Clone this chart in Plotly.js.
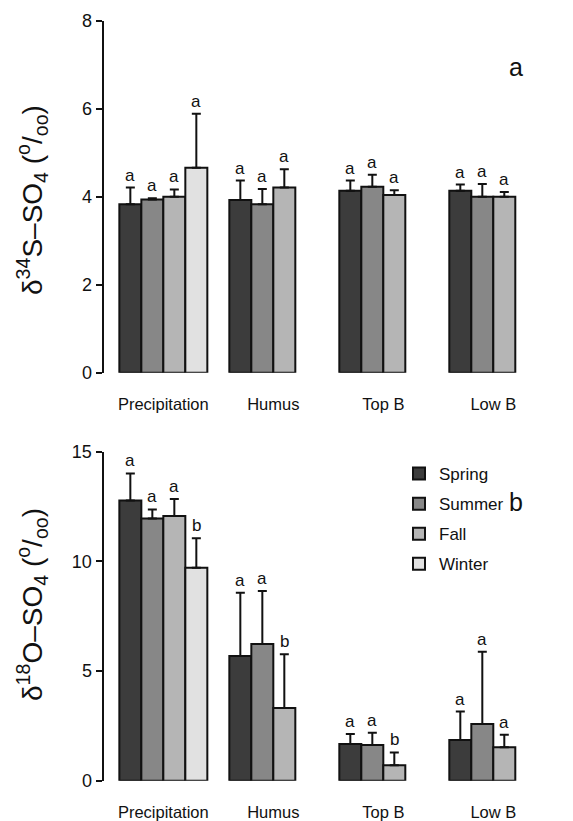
<!DOCTYPE html>
<html>
<head>
<meta charset="utf-8">
<script src="https://cdn.plot.ly/plotly-3.0.1.min.js"></script>
<style>html,body{margin:0;padding:0;background:#fff;}#chart{width:573px;height:821px;}</style>
</head>
<body>
<div id="chart"></div>
<script>
// Categories and seasons
const sites = ["Precipitation", "Humus", "Top B", "Low B"];
const seasons = ["Spring", "Summer", "Fall", "Winter"];
const seasonColors = ["#3c3c3c", "#878787", "#b5b5b5", "#e1e1e1"];

// Panel a: delta34S-SO4 means and upper error (SD)
const s34_spring = [3.83, 3.93, 4.14, 4.14];
const s34_summer = [3.94, 3.83, 4.23, 4.00];
const s34_fall   = [4.00, 4.21, 4.04, 4.00];
const s34_winter = [4.66, null, null, null];
const s34_spring_err = [0.38, 0.44, 0.23, 0.14];
const s34_summer_err = [0.03, 0.35, 0.27, 0.29];
const s34_fall_err   = [0.17, 0.42, 0.11, 0.11];
const s34_winter_err = [1.23, null, null, null];
const s34_spring_lab = ["a", "a", "a", "a"];
const s34_summer_lab = ["a", "a", "a", "a"];
const s34_fall_lab   = ["a", "a", "a", "a"];
const s34_winter_lab = ["a", null, null, null];

// Panel b: delta18O-SO4 means and upper error (SD)
const o18_spring = [12.77, 5.68, 1.67, 1.85];
const o18_summer = [11.96, 6.23, 1.63, 2.58];
const o18_fall   = [12.07, 3.31, 0.70, 1.52];
const o18_winter = [9.71, null, null, null];
const o18_spring_err = [1.24, 2.89, 0.46, 1.30];
const o18_summer_err = [0.41, 2.42, 0.56, 3.30];
const o18_fall_err   = [0.77, 2.45, 0.59, 0.58];
const o18_winter_err = [1.34, null, null, null];
const o18_spring_lab = ["a", "a", "a", "a"];
const o18_summer_lab = ["a", "a", "a", "a"];
const o18_fall_lab   = ["a", "b", "b", "a"];
const o18_winter_lab = ["b", null, null, null];

const s34 = [s34_spring, s34_summer, s34_fall, s34_winter];
const s34err = [s34_spring_err, s34_summer_err, s34_fall_err, s34_winter_err];
const s34lab = [s34_spring_lab, s34_summer_lab, s34_fall_lab, s34_winter_lab];
const o18 = [o18_spring, o18_summer, o18_fall, o18_winter];
const o18err = [o18_spring_err, o18_summer_err, o18_fall_err, o18_winter_err];
const o18lab = [o18_spring_lab, o18_summer_lab, o18_fall_lab, o18_winter_lab];

const FONT = '"Liberation Sans", Arial, Helvetica, sans-serif';
const offsets = [-0.3, -0.1, 0.1, 0.3];

const traces = [];
const annotations = [];

function addPanel(vals, errs, labs, xa, ya, showLegend) {
  vals.forEach((v, s) => {
    traces.push({
      type: "bar",
      name: seasons[s],
      x: sites,
      y: v,
      xaxis: xa, yaxis: ya,
      marker: {color: seasonColors[s], line: {color: "#111", width: 2}},
      error_y: {type: "data", symmetric: false, array: errs[s], arrayminus: errs[s].map(e => 0),
                color: "#111", thickness: 2, width: 4.5},
      showlegend: showLegend,
      legendgroup: seasons[s],
      hoverinfo: "skip"
    });
    v.forEach((val, i) => {
      if (val === null || labs[s][i] === null) return;
      annotations.push({
        x: i + offsets[s], y: val + errs[s][i],
        xref: xa, yref: ya,
        text: labs[s][i], showarrow: false,
        yanchor: "bottom", xanchor: "center", yshift: 1,
        font: {family: FONT, size: 17, color: "#111"}
      });
    });
  });
}

addPanel(s34, s34err, s34lab, "x", "y", false);
addPanel(o18, o18err, o18lab, "x2", "y2", true);

// Axis titles and panel letters
annotations.push({
  xref: "paper", yref: "paper", x: 32/573, y: (821-200)/821,
  text: "δ<sup>34</sup>S–SO<sub>4</sub> (<sup>o</sup>/<sub>oo</sub>)",
  textangle: -90, showarrow: false, xanchor: "center", yanchor: "middle",
  font: {family: FONT, size: 28, color: "#111"}
});
annotations.push({
  xref: "paper", yref: "paper", x: 32/573, y: (821-605)/821,
  text: "δ<sup>18</sup>O–SO<sub>4</sub> (<sup>o</sup>/<sub>oo</sub>)",
  textangle: -90, showarrow: false, xanchor: "center", yanchor: "middle",
  font: {family: FONT, size: 28, color: "#111"}
});
annotations.push({
  xref: "paper", yref: "paper", x: 516/573, y: (821-67)/821,
  text: "a", showarrow: false, xanchor: "center", yanchor: "middle",
  font: {family: FONT, size: 25, color: "#111"}
});
annotations.push({
  xref: "paper", yref: "paper", x: 516/573, y: (821-502)/821,
  text: "b", showarrow: false, xanchor: "center", yanchor: "middle",
  font: {family: FONT, size: 25, color: "#111"}
});

const xDomain = [103.5/573, 548.3/573];
const xBase = {
  domain: xDomain, range: [-0.544, 3.5], type: "category",
  showline: false, showgrid: false, zeroline: false,
  ticks: "outside", ticklen: 16, tickcolor: "rgba(0,0,0,0)",
  tickfont: {family: FONT, size: 16.5, color: "#111"}, fixedrange: true
};
const yBase = {
  showline: true, linecolor: "#111", linewidth: 2,
  ticks: "outside", ticklen: 6, tickwidth: 2, tickcolor: "#111",
  showgrid: false, zeroline: false,
  tickfont: {family: FONT, size: 18, color: "#111"}, fixedrange: true
};

const layout = {
  width: 573, height: 821,
  margin: {l: 0, r: 0, t: 0, b: 0},
  paper_bgcolor: "#fff", plot_bgcolor: "#fff",
  barmode: "group", bargap: 0.2, bargroupgap: 0,
  font: {family: FONT, color: "#111"},
  xaxis: Object.assign({}, xBase, {anchor: "y"}),
  xaxis2: Object.assign({}, xBase, {anchor: "y2"}),
  yaxis: Object.assign({}, yBase, {domain: [(821-372.7)/821, (821-21)/821], range: [0, 8], dtick: 2, anchor: "x"}),
  yaxis2: Object.assign({}, yBase, {domain: [(821-780.7)/821, (821-451.7)/821], range: [0, 15], dtick: 5, anchor: "x2"}),
  legend: {
    x: 399/573, y: (821-456)/821, xanchor: "left", yanchor: "top",
    bgcolor: "rgba(0,0,0,0)", font: {family: FONT, size: 17, color: "#111"},
    tracegroupgap: 5, traceorder: "grouped"
  },
  annotations: annotations,
  showlegend: true
};

Plotly.newPlot("chart", traces, layout, {staticPlot: true, displayModeBar: false});
</script>
</body>
</html>
